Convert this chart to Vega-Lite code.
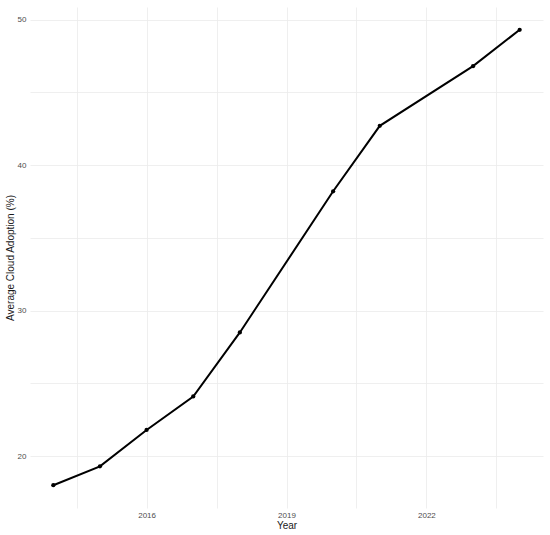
{
  "$schema": "https://vega.github.io/schema/vega-lite/v6.json",
  "autosize": "none",
  "width": 513,
  "height": 501,
  "padding": {"left": 30, "top": 7, "right": 7, "bottom": 27},
  "background": "white",
  "config": {
    "view": {"stroke": null},
    "font": "Liberation Sans",
    "axis": {
      "domain": false,
      "ticks": false,
      "gridColor": "#EBEBEB",
      "gridWidth": 0.8,
      "labelColor": "#4D4D4D",
      "labelFontSize": 8,
      "labelFont": "Liberation Sans",
      "titleFont": "Liberation Sans",
      "titleFontSize": 10,
      "titleFontWeight": "normal",
      "titleColor": "#1A1A1A"
    }
  },
  "data": {
    "values": [
      {"Year": 2014, "Adoption": 18.0},
      {"Year": 2015, "Adoption": 19.3},
      {"Year": 2016, "Adoption": 21.8},
      {"Year": 2017, "Adoption": 24.1},
      {"Year": 2018, "Adoption": 28.5},
      {"Year": 2020, "Adoption": 38.2},
      {"Year": 2021, "Adoption": 42.7},
      {"Year": 2023, "Adoption": 46.8},
      {"Year": 2024, "Adoption": 49.3}
    ]
  },
  "encoding": {
    "x": {
      "field": "Year",
      "type": "quantitative",
      "title": "Year",
      "scale": {"domain": [2013.5, 2024.5], "nice": false, "zero": false},
      "axis": {
        "values": [2014.5, 2016, 2017.5, 2019, 2020.5, 2022, 2023.5],
        "labelExpr": "datum.value % 1 == 0 ? format(datum.value, 'd') : ''",
        "labelPadding": 3,
        "titlePadding": 1
      }
    },
    "y": {
      "field": "Adoption",
      "type": "quantitative",
      "title": "Average Cloud Adoption (%)",
      "scale": {"domain": [16.435, 50.865], "nice": false, "zero": false},
      "axis": {
        "values": [20, 25, 30, 35, 40, 45, 50],
        "labelExpr": "datum.value % 10 == 0 ? format(datum.value, 'd') : ''",
        "labelPadding": 4,
        "titlePadding": 2
      }
    }
  },
  "layer": [
    {"mark": {"type": "line", "color": "black", "strokeWidth": 2}},
    {"mark": {"type": "point", "filled": true, "color": "black", "opacity": 1, "size": 18}}
  ]
}
